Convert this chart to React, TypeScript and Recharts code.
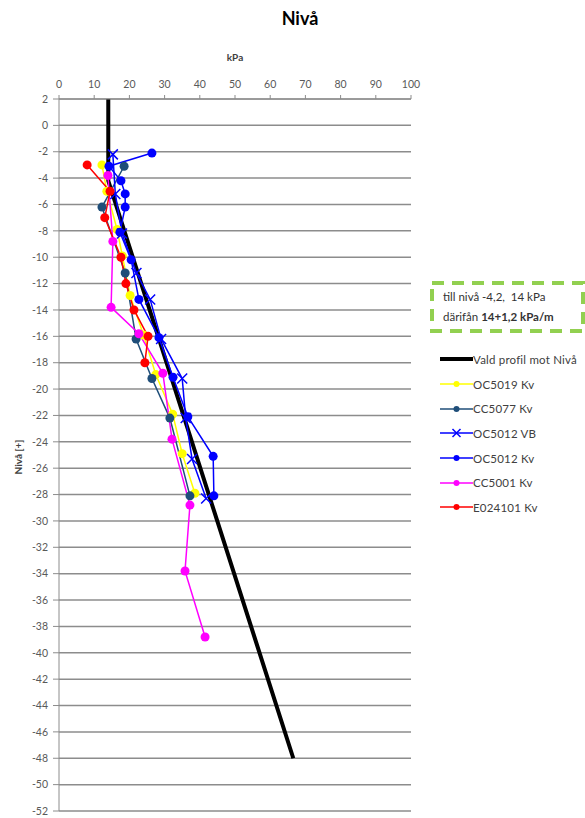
import React from 'react';
import { LineChart, Line, XAxis, YAxis, CartesianGrid, Legend } from 'recharts';

// Nivå (level, m) vs kPa for each sounding
const profileKpa = [14, 14, 66.56];
const profileLevel = [2, -4.2, -48];

const oc5019Kpa = [12.2, 13.6, 16.5, 18, 20.2, 24, 27.5, 32.3, 35, 38.6];
const oc5019Level = [-3, -5, -7.9, -9.9, -12.9, -15.9, -18.9, -21.9, -24.9, -27.9];

const cc5077Kpa = [18.5, 12.2, 18.8, 21.9, 26.4, 31.5, 37.2];
const cc5077Level = [-3.1, -6.2, -11.2, -16.2, -19.2, -22.2, -28.1];

const oc5012VbKpa = [15.3, 16, 17.9, 22, 25.9, 29, 35, 36, 37.8, 41.8];
const oc5012VbLevel = [-2.2, -5.2, -8.2, -11.2, -13.2, -16.2, -19.2, -22.2, -25.3, -28.3];

const oc5012KvKpa = [26.4, 14.2, 17.6, 18.8, 18.8, 17.3, 20.5, 22.7, 28.4, 32.4, 36.6, 43.8, 44];
const oc5012KvLevel = [-2.1, -3.1, -4.2, -5.2, -6.2, -8.1, -10.2, -13.2, -16.1, -19.1, -22.1, -25.1, -28.1];

const cc5001Kpa = [13.9, 15.3, 14.8, 22.7, 29.5, 32.1, 37.2, 35.8, 41.5];
const cc5001Level = [-3.8, -8.8, -13.8, -15.8, -18.8, -23.8, -28.8, -33.8, -38.8];

const e024101Kpa = [8, 14.5, 13, 17.6, 19, 21.3, 25.3, 24.4];
const e024101Level = [-3, -5, -7, -10, -12, -14, -16, -18];

const xTicks = [0, 10, 20, 30, 40, 50, 60, 70, 80, 90, 100];
const yTicks = Array.from({ length: 28 }, (_, i) => 2 - i * 2);

const zip = (xs: number[], ys: number[]) => xs.map((x, i) => ({ x, y: ys[i] }));

const series = [
  { name: 'Vald profil mot Nivå', color: '#000000', width: 4, marker: 'none', data: zip(profileKpa, profileLevel) },
  { name: 'OC5019 Kv', color: '#FFFF00', width: 1.5, marker: 'dot', data: zip(oc5019Kpa, oc5019Level) },
  { name: 'CC5077 Kv', color: '#1F4E79', width: 1.5, marker: 'dot', data: zip(cc5077Kpa, cc5077Level) },
  { name: 'OC5012 VB', color: '#0000FF', width: 1.5, marker: 'x', data: zip(oc5012VbKpa, oc5012VbLevel) },
  { name: 'OC5012 Kv', color: '#0000FF', width: 1.5, marker: 'dot', data: zip(oc5012KvKpa, oc5012KvLevel) },
  { name: 'CC5001 Kv', color: '#FF00FF', width: 1.5, marker: 'dot', data: zip(cc5001Kpa, cc5001Level) },
  { name: 'E024101 Kv', color: '#FF0000', width: 1.5, marker: 'dot', data: zip(e024101Kpa, e024101Level) },
];

const font = 'Lato, "Liberation Sans", sans-serif';
const gridColor = '#8c8c8c';

const XMark = (props: any) => {
  const { cx, cy, stroke } = props;
  if (cx == null || cy == null) return null;
  const s = 5;
  return (
    <path
      d={`M${cx - s},${cy - s}L${cx + s},${cy + s}M${cx - s},${cy + s}L${cx + s},${cy - s}`}
      stroke={stroke}
      strokeWidth={1.5}
      fill="none"
    />
  );
};

const LegendIcon = ({ s }: { s: (typeof series)[number] }) => (
  <svg width={33} height={10} style={{ display: 'block' }}>
    <line x1={0} y1={5} x2={33} y2={5} stroke={s.color} strokeWidth={s.width} />
    {s.marker === 'dot' && <circle cx={16.5} cy={5} r={3} fill={s.color} />}
    {s.marker === 'x' && (
      <path d="M12.5,1L20.5,9M12.5,9L20.5,1" stroke={s.color} strokeWidth={1.5} />
    )}
  </svg>
);

const renderLegend = () => (
  <div style={{ fontFamily: font, fontSize: 11.5, color: '#404040', letterSpacing: 0.2 }}>
    {series.map((s) => (
      <div key={s.name} style={{ display: 'flex', alignItems: 'center', height: 24.7 }}>
        <LegendIcon s={s} />
        <span style={{ whiteSpace: 'nowrap' }}>{s.name}</span>
      </div>
    ))}
  </div>
);

export default function App() {
  return (
    <div style={{ position: 'absolute', left: 0, top: 0, width: 585, height: 818, background: '#fff' }}>
      <LineChart width={585} height={818} margin={{ top: 49, right: 174, left: 14, bottom: 7 }}>
        <CartesianGrid vertical={false} stroke={gridColor} strokeWidth={1.5} />
        <XAxis
          type="number"
          dataKey="x"
          orientation="top"
          domain={[0, 100]}
          ticks={xTicks}
          height={50}
          tickSize={4}
          tickMargin={7}
          interval={0}
          stroke={gridColor}
          tick={{ fill: '#595959', fontSize: 10.5, fontFamily: font }}
          label={{ value: 'kPa', position: 'insideTop', offset: 5, fill: '#404040', fontSize: 10, fontWeight: 'bold', fontFamily: font }}
        />
        <YAxis
          type="number"
          dataKey="y"
          domain={[-52, 2]}
          ticks={yTicks}
          width={45}
          tickSize={6}
          tickMargin={5}
          interval={0}
          stroke={gridColor}
          tick={{ fill: '#595959', fontSize: 10.5, fontFamily: font }}
        />
        {series.map((s) => (
          <Line
            key={s.name}
            data={s.data}
            dataKey="y"
            name={s.name}
            type="linear"
            stroke={s.color}
            strokeWidth={s.width}
            isAnimationActive={false}
            dot={
              s.marker === 'dot'
                ? { r: 4.5, fill: s.color, stroke: s.color, strokeWidth: 0 }
                : s.marker === 'x'
                ? (p: any) => <XMark key={`${s.name}-${p.index}`} {...p} stroke={s.color} />
                : false
            }
            activeDot={false}
          />
        ))}
        <Legend
          layout="vertical"
          align="center"
          verticalAlign="middle"
          content={renderLegend}
          wrapperStyle={{ position: 'absolute', left: 440, top: 347, width: 145 }}
        />
      </LineChart>
      <svg
        width={585}
        height={818}
        style={{ position: 'absolute', left: 0, top: 0, pointerEvents: 'none' }}
      >
        <text x={300} y={25} textAnchor="middle" fontFamily={font} fontWeight="bold" fontSize={18} fill="#000">
          Nivå
        </text>
        <text
          x={0}
          y={0}
          transform="translate(22,457) rotate(-90)"
          textAnchor="middle"
          fontFamily={font}
          fontWeight="bold"
          fontSize={10}
          fill="#404040"
        >
          Nivå [+]
        </text>
        <rect x={432} y={283} width={151} height={48} fill="#fff" stroke="#92D050" strokeWidth={4} strokeDasharray="12 8" />
        <text x={443} y={301} fontFamily={font} fontSize={11.5} fill="#333" style={{ whiteSpace: 'pre' }}>
          {'till nivå -4,2,\u00A0 14 kPa'}
        </text>
        <text x={443} y={321} fontFamily={font} fontSize={11.5} fill="#333">
          därifån <tspan fontWeight="bold">14+1,2 kPa/m</tspan>
        </text>
      </svg>
    </div>
  );
}
